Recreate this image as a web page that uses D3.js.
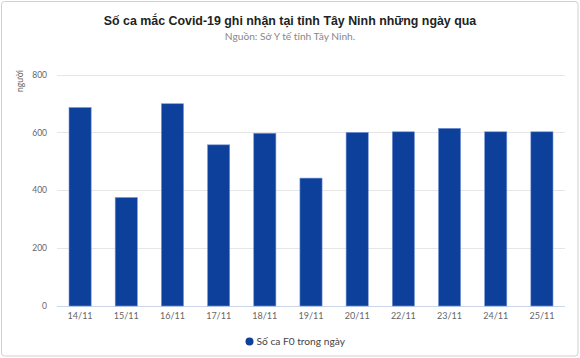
<!DOCTYPE html>
<html><head><meta charset="utf-8">
<script src="https://cdn.jsdelivr.net/npm/d3@7"></script>
<style>html,body{margin:0;padding:0;background:#fff;}svg{display:block;}</style>
</head><body>
<svg id="chart" width="580" height="358"></svg>
<script>
const categories = ["14/11","15/11","16/11","17/11","18/11","19/11","20/11","22/11","23/11","24/11","25/11"];
const values = [686, 375, 699, 557, 597, 442, 600, 602, 614, 602, 602];
const yTicks = [0, 200, 400, 600, 800];
const seriesName = "Số ca F0 trong ngày";
const title = "Số ca mắc Covid-19 ghi nhận tại tỉnh Tây Ninh những ngày qua";
const subtitle = "Nguồn: Sở Y tế tỉnh Tây Ninh.";
const yTitle = "người";

const svg = d3.select("#chart");
const W = 580, H = 358;
svg.append("rect").attr("x",1.5).attr("y",1.5).attr("width",W-3.5).attr("height",H-3.5)
  .attr("rx",3).attr("fill","#fff").attr("stroke","#d0d0d0").attr("stroke-width",1);

const x = d3.scaleBand().domain(categories).range([57, 565]).paddingInner(0.52).paddingOuter(0.26);
const y = d3.scaleLinear().domain([0, 800]).range([306, 74.5]);
const lab = "Lato, 'Open Sans', sans-serif";

// gridlines
svg.append("g").selectAll("line").data(yTicks).join("line")
  .attr("x1",57).attr("x2",565).attr("y1",d=>Math.round(y(d))+0.5).attr("y2",d=>Math.round(y(d))+0.5)
  .attr("stroke",d=>d===0?"#ccd6eb":"#e6e6e6").attr("stroke-width",1);

// y axis labels
const yAxis = d3.axisLeft(y).tickValues(yTicks).tickSize(0).tickPadding(0);
const gy = svg.append("g").attr("transform","translate(47,0)").call(yAxis);
gy.select(".domain").remove();
gy.selectAll("text").attr("font-family",lab).attr("font-size","8.5px").attr("fill","#666");

svg.append("text").attr("transform","translate(23,81) rotate(-90)").attr("text-anchor","middle")
  .attr("font-family",lab).attr("font-size","8.5px").attr("fill","#666").text(yTitle);

// bars
svg.append("g").selectAll("rect").data(values).join("rect")
  .attr("x",(d,i)=>x(categories[i])).attr("width",x.bandwidth())
  .attr("y",d=>y(d)).attr("height",d=>y(0)-y(d))
  .attr("fill","#0c409a").attr("stroke","#7a97d6").attr("stroke-width",0.6);

// x axis labels
const xAxis = d3.axisBottom(x).tickSize(0).tickPadding(0);
const gx = svg.append("g").attr("transform","translate(0,313)").call(xAxis);
gx.select(".domain").remove();
gx.selectAll("text").attr("font-family",lab).attr("font-size","9px").attr("fill","#666");

// title
svg.append("text").attr("x",290).attr("y",25).attr("text-anchor","middle")
  .attr("font-family","'Liberation Sans', Arial, sans-serif").attr("font-weight","bold")
  .attr("font-size","12.4px").attr("fill","#222").text(title);
svg.append("text").attr("x",290).attr("y",40).attr("text-anchor","middle")
  .attr("font-family",lab).attr("font-size","10.2px").attr("fill","#888").text(subtitle);

// legend
const lg = svg.append("g");
lg.append("circle").attr("cx",249.5).attr("cy",341.5).attr("r",4).attr("fill","#0c409a");
lg.append("text").attr("x",256.5).attr("y",345).attr("font-family",lab).attr("font-size","10.2px")
  .attr("fill","#444").text(seriesName);
</script>
</body></html>
